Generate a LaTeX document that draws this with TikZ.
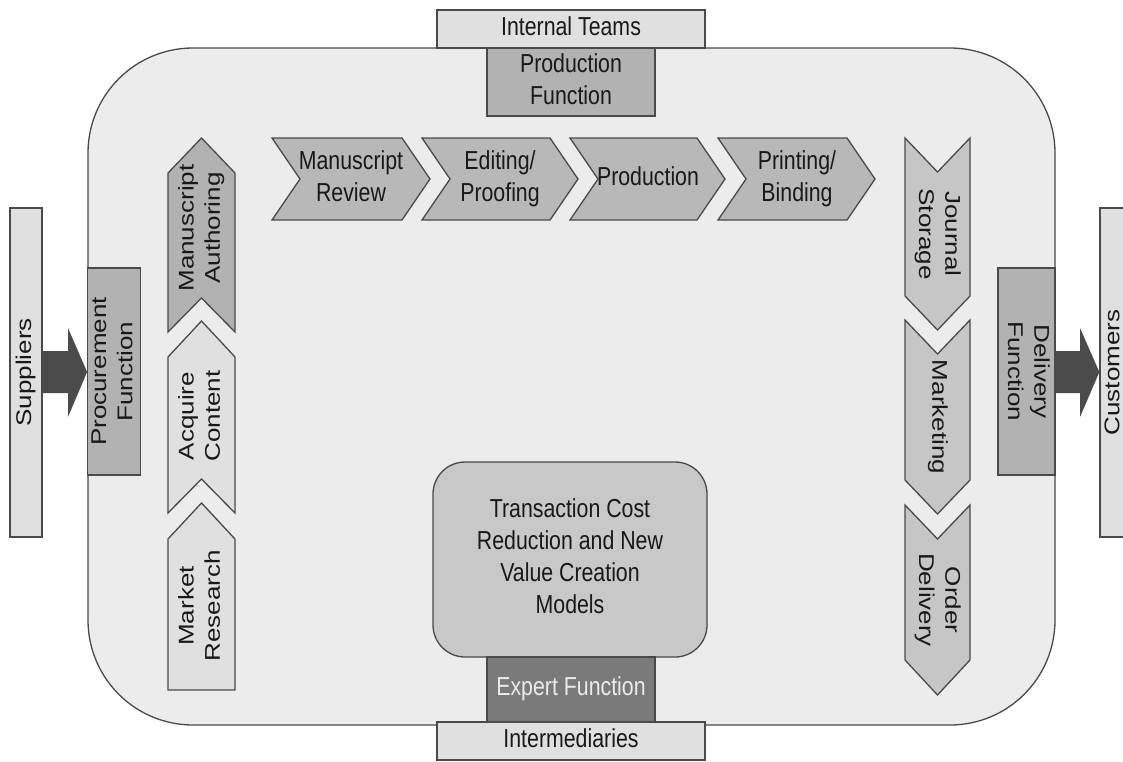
\documentclass[tikz,border=0pt]{standalone}
\usepackage{fontspec}
\setmainfont{Liberation Sans}
\usepackage{graphicx}
\usetikzlibrary{calc}

% narrow lettering: every label is squeezed horizontally
\newcommand\hlab[1]{\scalebox{0.82}[1]{\begin{tabular}{@{}c@{}}#1\end{tabular}}}
\newcommand\vlab[2]{\scalebox{0.82}[1]{\rotatebox{#1}{\begin{tabular}{@{}c@{}}#2\end{tabular}}}}

\definecolor{edge}{HTML}{4A4A4A}
\definecolor{canvas}{HTML}{ECECEC}
\definecolor{pale}{HTML}{E0E0E0}
\definecolor{mid}{HTML}{B2B2B2}
\definecolor{stepgray}{HTML}{B8B8B8}
\definecolor{rightgray}{HTML}{C6C6C6}
\definecolor{hubgray}{HTML}{C8C8C8}
\definecolor{expert}{HTML}{7A7A7A}
\definecolor{arrowgray}{HTML}{4B4B4B}

\begin{document}
\begin{tikzpicture}[x=1pt,y=-1pt,
  every node/.style={font=\fontsize{26}{32}\selectfont, inner sep=0pt, text=black!90},
  outline/.style={draw=edge, line width=1.3pt},
  tab/.style={outline, rectangle},
  chev/.style={outline, line join=miter}]
\useasboundingbox (0,0) rectangle (1123,761);

% main enterprise frame
\draw[outline, fill=canvas, rounded corners=105] (88,48) rectangle (1055,725);

% external partners
\node[tab, fill=pale, minimum width=268, minimum height=38] (teams) at (571,29) {\hlab{Internal Teams}};
\node[tab, fill=pale, minimum width=268, minimum height=38] (inter) at (571,741) {\hlab{Intermediaries}};
\node[tab, fill=pale, minimum width=32, minimum height=329] (sup) at (26,372.5) {\vlab{90}{Suppliers}};
\node[tab, fill=pale, minimum width=28, minimum height=329] (cust) at (1114,372.5) {\vlab{90}{Customers}};

% internal functions on the frame
\node[tab, fill=mid, minimum width=168, minimum height=68] (prodfn) at (571,82) {\hlab{Production\\Function}};
\node[tab, fill=mid, minimum width=52, minimum height=207] (proc) at (114,371.5) {\vlab{90}{Procurement\\Function}};
\node[tab, fill=mid, minimum width=57, minimum height=207] (deliv) at (1026.5,371.5) {\vlab{-90}{Delivery\\Function}};

% hub
\node[outline, fill=hubgray, rounded corners=32, minimum width=274, minimum height=195] (hub) at (570,559.5)
  {\hlab{Transaction Cost\\Reduction and New\\Value Creation\\Models}};
\node[tab, fill=expert, minimum width=168, minimum height=65, text=white!92!black] (expfn) at (571,689.5) {\hlab{Expert Function}};

% block arrows in and out
\fill[arrowgray] (sup.east |- 0,351) -- (68,351) -- (68,328) -- (proc.west |- 0,372) -- (68,417) -- (68,393) -- (sup.east |- 0,393) -- cycle;
\fill[arrowgray] (deliv.east |- 0,351) -- (1080,351) -- (1080,328) -- (cust.west |- 0,372) -- (1080,417) -- (1080,393) -- (deliv.east |- 0,393) -- cycle;

% production steps (left to right)
\draw[chev, fill=stepgray] (272,138) -- (402,138) -- (430,179) -- (402,220) -- (272,220) -- (300,179) -- cycle;
\node (review) at (351,179) {\hlab{Manuscript\\Review}};
\draw[chev, fill=stepgray] (422,138) -- (550,138) -- (578,179) -- (550,220) -- (422,220) -- (450,179) -- cycle;
\node (edit) at (500,179) {\hlab{Editing/\\Proofing}};
\draw[chev, fill=stepgray] (570,138) -- (697,138) -- (725,179) -- (697,220) -- (570,220) -- (598,179) -- cycle;
\node (prod) at (648,179) {\hlab{Production}};
\draw[chev, fill=stepgray] (718,138) -- (847,138) -- (875,179) -- (847,220) -- (718,220) -- (746,179) -- cycle;
\node (print) at (797,179) {\hlab{Printing/\\Binding}};

% acquisition steps (bottom to top)
\draw[chev, fill=mid] (201.5,138) -- (235,173) -- (235,332) -- (201.5,298) -- (168,332) -- (168,173) -- cycle;
\node (author) at (201.5,228) {\vlab{90}{Manuscript\\Authoring}};
\draw[chev, fill=pale] (201.5,321) -- (235,357) -- (235,513) -- (201.5,479) -- (168,513) -- (168,357) -- cycle;
\node (acq) at (201.5,416) {\vlab{90}{Acquire\\Content}};
\draw[chev, fill=pale] (201.5,503) -- (235,539) -- (235,690) -- (168,690) -- (168,539) -- cycle;
\node (market) at (201.5,606) {\vlab{90}{Market\\Research}};

% distribution steps (top to bottom)
\draw[chev, fill=rightgray] (905,138) -- (937.5,172) -- (970,138) -- (970,296) -- (937.5,330) -- (905,296) -- cycle;
\node (store) at (937.5,234) {\vlab{-90}{Journal\\Storage}};
\draw[chev, fill=rightgray] (905,320) -- (937.5,354) -- (970,320) -- (970,480) -- (937.5,514) -- (905,480) -- cycle;
\node (mkt) at (937.5,417) {\vlab{-90}{Marketing}};
\draw[chev, fill=rightgray] (905,505) -- (937.5,539) -- (970,505) -- (970,660) -- (937.5,695) -- (905,660) -- cycle;
\node (order) at (937.5,600) {\vlab{-90}{Order\\Delivery}};
\end{tikzpicture}
\end{document}
